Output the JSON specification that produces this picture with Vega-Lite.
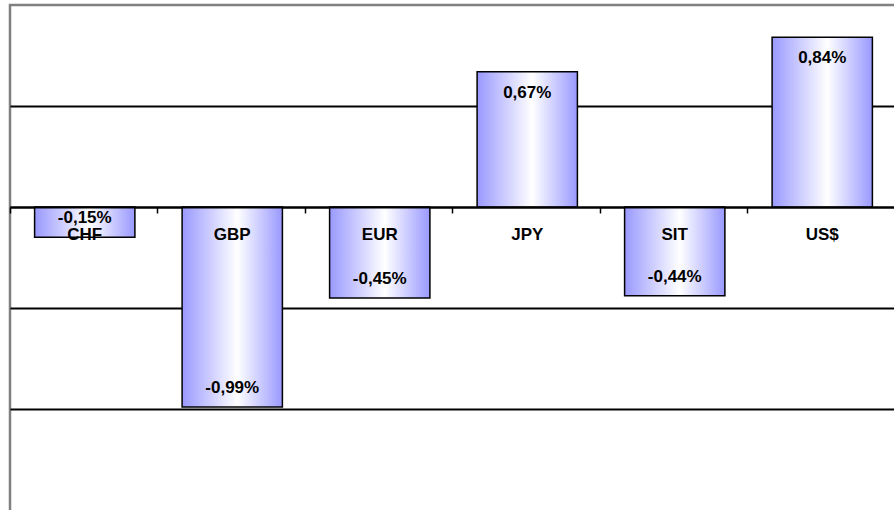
{
  "$schema": "https://vega.github.io/schema/vega-lite/v6.json",
  "autosize": {"type": "none"},
  "padding": {"left": 10, "top": 5, "right": 0, "bottom": 0},
  "width": 887,
  "height": 508,
  "background": "white",
  "config": {
    "view": {"stroke": "#808080", "strokeWidth": 2.5},
    "font": "Liberation Sans"
  },
  "data": {
    "values": [
      {"cur": "CHF", "v": -0.15, "lab": "-0,15%"},
      {"cur": "GBP", "v": -0.99, "lab": "-0,99%"},
      {"cur": "EUR", "v": -0.45, "lab": "-0,45%"},
      {"cur": "JPY", "v": 0.67, "lab": "0,67%"},
      {"cur": "SIT", "v": -0.44, "lab": "-0,44%"},
      {"cur": "US$", "v": 0.84, "lab": "0,84%"}
    ]
  },
  "encoding": {
    "x": {
      "field": "cur",
      "type": "nominal",
      "sort": null,
      "scale": {"paddingInner": 0.32, "paddingOuter": 0.1668},
      "axis": {
        "title": null,
        "orient": "bottom",
        "offset": -306,
        "zindex": 1,
        "labelAngle": 0,
        "labelFont": "Liberation Sans",
        "labelFontSize": 17,
        "labelFontWeight": "bold",
        "labelColor": "black",
        "labelPadding": 13,
        "bandPosition": -0.245,
        "tickSize": 6,
        "tickColor": "black",
        "tickWidth": 1.5,
        "domainColor": "black",
        "domainWidth": 2
      }
    },
    "y": {
      "field": "v",
      "type": "quantitative",
      "scale": {"domain": [-1.515, 1], "nice": false, "zero": false},
      "axis": {
        "title": null,
        "labels": false,
        "ticks": false,
        "domain": false,
        "grid": true,
        "gridColor": "black",
        "gridWidth": 2,
        "gridOpacity": 1,
        "values": [-1, -0.5, 0, 0.5]
      }
    }
  },
  "layer": [
    {
      "mark": {
        "type": "bar",
        "stroke": "black",
        "strokeWidth": 1.5,
        "color": {
          "gradient": "linear",
          "x1": 0, "x2": 1, "y1": 0, "y2": 0,
          "stops": [
            {"offset": 0, "color": "#9999ff"},
            {"offset": 0.55, "color": "#ffffff"},
            {"offset": 1, "color": "#9999ff"}
          ]
        }
      }
    },
    {
      "transform": [{"filter": "datum.v > 0"}],
      "mark": {"type": "text", "baseline": "middle", "dy": 21, "fontSize": 17, "fontWeight": "bold", "font": "Liberation Sans", "color": "black"},
      "encoding": {"text": {"field": "lab"}}
    },
    {
      "transform": [{"filter": "datum.v < 0"}],
      "mark": {"type": "text", "baseline": "middle", "dy": -19, "fontSize": 17, "fontWeight": "bold", "font": "Liberation Sans", "color": "black"},
      "encoding": {"text": {"field": "lab"}}
    }
  ]
}
